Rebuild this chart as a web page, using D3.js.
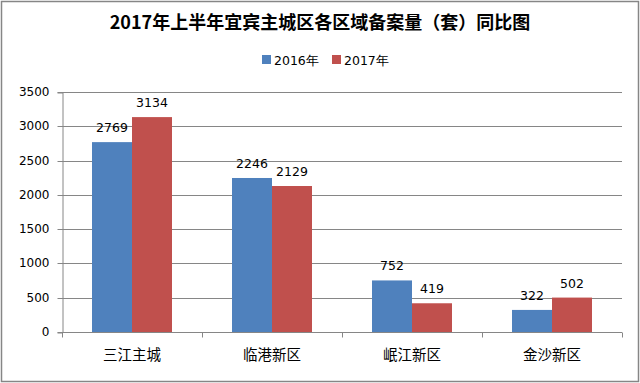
<!DOCTYPE html>
<html><head><meta charset="utf-8">
<script src="https://cdn.jsdelivr.net/npm/d3@7"></script>
<style>body{margin:0;background:#fff}svg{display:block}</style>
</head><body>
<svg id="c" width="640" height="383"></svg>
<script>
const categories = ["三江主城", "临港新区", "岷江新区", "金沙新区"];
const seriesNames = ["2016年", "2017年"];
const values2016 = [2769, 2246, 752, 322];
const values2017 = [3134, 2129, 419, 502];
const yTicks = [0, 500, 1000, 1500, 2000, 2500, 3000, 3500];
const colors = ["#4F81BD", "#C0504D"];

(function(){
const svg = d3.select("#c");
const W = 640, H = 383;
const font = "'Noto Sans CJK SC', 'DejaVu Sans', sans-serif";
const numFont = "'DejaVu Sans', sans-serif";
svg.append("rect").attr("x",1.5).attr("y",1.5).attr("width",W-3).attr("height",H-3)
  .attr("fill","#fff").attr("stroke","#868686").attr("stroke-width",1.5);

const pL = 62, pR = 622, pT = 92, pB = 332;
const x = d3.scaleBand().domain(categories).range([pL, pR]).paddingInner(0).paddingOuter(0);
const xs = d3.scaleBand().domain(seriesNames).range([0, x.bandwidth()]).paddingInner(0).paddingOuter(0.75);
const y = d3.scaleLinear().domain([0, 3500]).range([pB, pT]);

// gridlines
svg.append("g").selectAll("line").data(yTicks.filter(d=>d>0)).join("line")
  .attr("x1", pL).attr("x2", pR).attr("y1", d=>Math.round(y(d))+0.5).attr("y2", d=>Math.round(y(d))+0.5)
  .attr("stroke","#868686").attr("stroke-width",1);

// y axis
const yAxis = d3.axisLeft(y).tickValues(yTicks).tickFormat(d3.format("d")).tickSize(5).tickPadding(8);
const gy = svg.append("g").attr("transform",`translate(${pL+0.5},0.5)`).call(yAxis);
gy.select(".domain").attr("stroke","#868686");
gy.selectAll(".tick line").attr("stroke","#868686");
gy.selectAll("text").attr("font-family",numFont).attr("font-size",12).attr("fill","#000");
gy.selectAll(".tick").attr("transform", d=>`translate(0,${Math.round(y(d))})`);

// bars
const series = [values2016, values2017];
categories.forEach((c,i)=>{
  seriesNames.forEach((s,j)=>{
    const v = series[j][i];
    svg.append("rect").attr("x", x(c)+xs(s)).attr("width", xs.bandwidth())
      .attr("y", y(v)).attr("height", y(0)-y(v)).attr("fill", colors[j]);
    svg.append("text").attr("x", x(c)+xs(s)+xs.bandwidth()/2).attr("y", y(v)-10)
      .attr("text-anchor","middle").attr("font-family",numFont).attr("font-size",12.5).attr("fill","#000").text(v);
  });
});

// x axis
const gx = svg.append("g").attr("transform",`translate(0,${pB+0.5})`);
gx.append("line").attr("x1",pL).attr("x2",pR).attr("stroke","#868686");
const bounds = categories.map(c=>x(c)).concat([pR]);
gx.selectAll("line.t").data(bounds).join("line").attr("class","t")
  .attr("x1",d=>Math.round(d)+0.5).attr("x2",d=>Math.round(d)+0.5).attr("y1",0).attr("y2",5).attr("stroke","#868686");
gx.selectAll("text").data(categories).join("text")
  .attr("x", d=>x(d)+x.bandwidth()/2).attr("y", 27).attr("text-anchor","middle")
  .attr("font-family",font).attr("font-size",14.5).attr("fill","#000").text(d=>d);

// title
svg.append("text").attr("x", 320).attr("y", 29).attr("text-anchor","middle")
  .attr("font-family",font).attr("font-weight","bold").attr("font-size",18).attr("fill","#000")
  .text("2017年上半年宜宾主城区各区域备案量（套）同比图");

// legend
const legX = [262, 332];
seriesNames.forEach((s,j)=>{
  svg.append("rect").attr("x", legX[j]).attr("y", 55).attr("width", 9).attr("height", 9).attr("fill", colors[j]);
  svg.append("text").attr("x", legX[j]+12).attr("y", 64.5).attr("font-family",numFont).attr("font-size",12.5)
    .attr("fill","#000").text(s);
});
})();
</script>
</body></html>
